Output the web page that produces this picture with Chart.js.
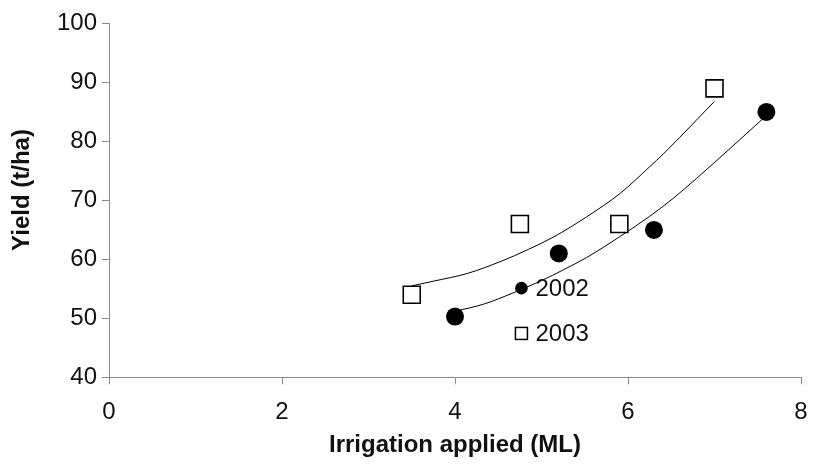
<!DOCTYPE html>
<html>
<head>
<meta charset="utf-8">
<script src="https://cdn.jsdelivr.net/npm/chart.js@4/dist/chart.umd.min.js"></script>
<style>
html,body{margin:0;padding:0;background:#fff;}
#wrap{position:relative;width:816px;height:469px;}
</style>
</head>
<body>
<div id="wrap"><canvas id="c" width="816" height="469"></canvas></div>
<script>
// Data
const seriesNames = ['2002', '2003'];
const irrigation2002 = [4.0, 5.2, 6.3, 7.6];
const yield2002 = [50.3, 61.0, 65.0, 85.0];
const irrigation2003 = [3.5, 4.75, 5.9, 7.0];
const yield2003 = [54.0, 66.0, 66.0, 89.0];

// Trend lines
const trend2002X = [4.0, 4.33, 4.67, 5.0, 5.25, 5.52, 5.91, 6.25, 6.51, 6.79, 7.18, 7.6];
const trend2002Y = [51.2, 52.4, 54.3, 56.4, 58.2, 60.3, 63.9, 67.3, 70.2, 73.7, 78.8, 84.4];
const trend2003X = [3.5, 3.75, 4.14, 4.52, 4.85, 5.14, 5.52, 5.91, 6.25, 6.41, 6.79, 7.0];
const trend2003Y = [55.5, 56.3, 57.6, 59.6, 61.7, 63.8, 67.2, 71.2, 75.7, 77.9, 83.6, 86.8];

const xTicks = [0, 2, 4, 6, 8];
const yTicks = [40, 50, 60, 70, 80, 90, 100];
const xTitle = 'Irrigation applied (ML)';
const yTitle = 'Yield (t/ha)';

const pts = (xs, ys) => xs.map((x, i) => ({x: x, y: ys[i]}));

const axisColor = '#8a8a8a';
const tickFont = {family: "'Liberation Sans', Arial, sans-serif", size: 24};
const titleFont = {family: "'Liberation Sans', Arial, sans-serif", size: 24, weight: 'bold'};

const legendPlugin = {
  id: 'inlineLegend',
  afterDatasetsDraw(chart) {
    const {ctx, chartArea} = chart;
    const w = chartArea.right - chartArea.left;
    const h = chartArea.bottom - chartArea.top;
    const mx = chartArea.left + w * 0.596;
    const rows = [chartArea.top + h * 0.748, chartArea.top + h * 0.876];
    ctx.save();
    ctx.fillStyle = '#000';
    ctx.beginPath();
    ctx.arc(mx, rows[0], 6.3, 0, Math.PI * 2);
    ctx.fill();
    ctx.fillStyle = '#fff';
    ctx.strokeStyle = '#000';
    ctx.lineWidth = 1.5;
    ctx.fillRect(mx - 6, rows[1] - 6, 12, 12);
    ctx.strokeRect(mx - 6, rows[1] - 6, 12, 12);
    ctx.fillStyle = '#111';
    ctx.font = "24px 'Liberation Sans', Arial, sans-serif";
    ctx.textBaseline = 'middle';
    ctx.textAlign = 'left';
    ctx.fillText(seriesNames[0], mx + 14, rows[0] + 1);
    ctx.fillText(seriesNames[1], mx + 14, rows[1] + 1);
    // y axis title (slightly above centre, as in the reference)
    ctx.save();
    ctx.translate(22, chartArea.top + h * 0.4706);
    ctx.rotate(-Math.PI / 2);
    ctx.textAlign = 'center';
    ctx.font = "bold 24px 'Liberation Sans', Arial, sans-serif";
    ctx.fillText(yTitle, 0, 0);
    ctx.restore();
    ctx.restore();
  }
};

new Chart(document.getElementById('c'), {
  type: 'scatter',
  data: {
    datasets: [
      {
        label: seriesNames[0],
        data: pts(irrigation2002, yield2002),
        pointStyle: 'circle',
        pointRadius: 9,
        pointHoverRadius: 9,
        backgroundColor: '#000',
        borderColor: '#000',
        borderWidth: 0,
        order: 0
      },
      {
        label: seriesNames[1],
        data: pts(irrigation2003, yield2003),
        pointStyle: 'rect',
        pointRadius: 12,
        pointHoverRadius: 12,
        backgroundColor: '#fff',
        borderColor: '#000',
        borderWidth: 1.6,
        order: 0
      },
      {
        label: 'trend 2002',
        data: pts(trend2002X, trend2002Y),
        showLine: true,
        pointRadius: 0,
        borderColor: '#000',
        borderWidth: 1,
        cubicInterpolationMode: 'monotone',
        fill: false,
        order: 1
      },
      {
        label: 'trend 2003',
        data: pts(trend2003X, trend2003Y),
        showLine: true,
        pointRadius: 0,
        borderColor: '#000',
        borderWidth: 1,
        cubicInterpolationMode: 'monotone',
        fill: false,
        order: 1
      }
    ]
  },
  options: {
    responsive: false,
    animation: false,
    events: [],
    layout: {padding: {top: 23.5, right: 15, bottom: 0, left: 0}},
    plugins: {
      legend: {display: false},
      tooltip: {enabled: false}
    },
    scales: {
      x: {
        type: 'linear',
        min: 0, max: 8,
        afterFit(s) { s.height = 91.7; s.paddingLeft = 0; s.paddingRight = 0; },
        afterBuildTicks(s) { s.ticks = xTicks.map(v => ({value: v})); },
        ticks: {font: tickFont, color: '#111', padding: 14, maxRotation: 0},
        grid: {display: true, drawOnChartArea: false, drawTicks: true, tickLength: 7, color: axisColor, lineWidth: 1},
        border: {display: true, color: axisColor, width: 1},
        title: {display: true, text: xTitle, font: titleFont, color: '#111', padding: {top: 0, bottom: 9}}
      },
      y: {
        type: 'linear',
        min: 40, max: 100,
        afterFit(s) { s.width = 109; s.paddingTop = 0; s.paddingBottom = 0; },
        afterBuildTicks(s) { s.ticks = yTicks.map(v => ({value: v})); },
        ticks: {font: tickFont, color: '#111', padding: 5},
        grid: {display: true, drawOnChartArea: false, drawTicks: true, tickLength: 7, color: axisColor, lineWidth: 1},
        border: {display: true, color: axisColor, width: 1},
        title: {display: false}
      }
    }
  },
  plugins: [legendPlugin]
});
</script>
</body>
</html>
